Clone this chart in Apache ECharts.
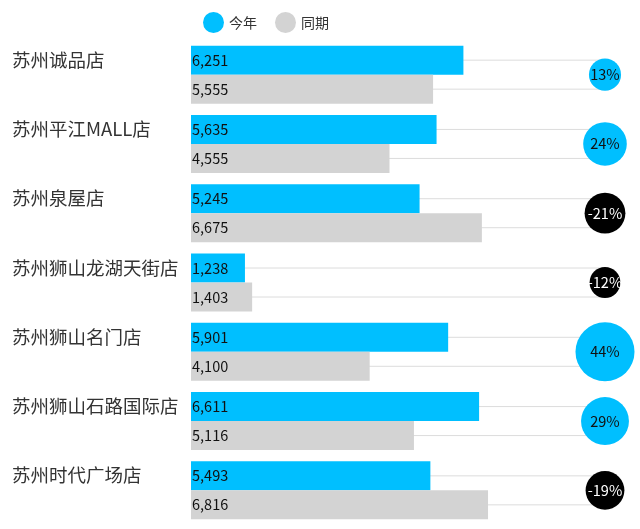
<!DOCTYPE html>
<html>
<head>
<meta charset="utf-8">
<script src="https://cdn.jsdelivr.net/npm/echarts@6/dist/echarts.min.js"></script>
<style>
  html, body { margin: 0; padding: 0; background: #fff; }
  #chart { width: 640px; height: 529px; }
</style>
</head>
<body>
<div id="chart"></div>
<script>
var stores = ['苏州诚品店', '苏州平江MALL店', '苏州泉屋店', '苏州狮山龙湖天街店', '苏州狮山名门店', '苏州狮山石路国际店', '苏州时代广场店'];
var thisYear = [6251, 5635, 5245, 1238, 5901, 6611, 5493];
var lastYear = [5555, 4555, 6675, 1403, 4100, 5116, 6816];
var growth = [13, 24, -21, -12, 44, 29, -19];
var axisMax = 9500;

var fontCn = '"Noto Sans CJK SC", "Microsoft YaHei", sans-serif';
var barW = 29;

var myChart = echarts.init(document.getElementById('chart'));

// 背景细线，每根柱子中线各一条
var guideLines = function (params, api) {
    var c = api.coord([0, api.value(0)]);
    var sys = params.coordSys;
    var half = barW / 2;
    return {
        type: 'group',
        children: [-half, half].map(function (dy) {
            return {
                type: 'line',
                shape: { x1: sys.x, y1: c[1] + dy, x2: sys.x + sys.width, y2: c[1] + dy },
                style: { stroke: '#dcdcdc', lineWidth: 1 }
            };
        })
    };
};

var numLabel = {
    show: true,
    position: 'insideLeft',
    distance: 1,
    fontSize: 14.5,
    color: '#111',
    formatter: function (p) { return p.value.toLocaleString('en-US'); }
};

var option = {
    textStyle: { fontFamily: fontCn },
    legend: {
        data: ['今年', '同期'],
        left: 198,
        top: 7,
        icon: 'circle',
        itemWidth: 21,
        itemHeight: 21,
        itemGap: 18,
        textStyle: { fontSize: 14, color: '#333', fontFamily: fontCn }
    },
    grid: { left: 191, right: 35, top: 40, bottom: 4 },
    xAxis: {
        type: 'value',
        min: 0,
        max: axisMax,
        show: false
    },
    yAxis: {
        type: 'category',
        data: stores,
        inverse: true,
        axisLine: { show: false },
        axisTick: { show: false },
        splitLine: { show: false },
        axisLabel: {
            align: 'left',
            margin: 179,
            verticalAlign: 'bottom',
            lineHeight: 30,
            fontSize: 18.5,
            color: '#333',
            fontFamily: fontCn
        }
    },
    series: [
        {
            type: 'custom',
            renderItem: guideLines,
            data: stores.map(function (s, i) { return [i]; }),
            encode: { y: 0 },
            silent: true,
            z: 1
        },
        {
            name: '今年',
            type: 'bar',
            data: thisYear,
            barWidth: barW,
            barGap: '0%',
            itemStyle: { color: '#00BFFF' },
            label: numLabel,
            z: 2
        },
        {
            name: '同期',
            type: 'bar',
            data: lastYear,
            barWidth: barW,
            barGap: '0%',
            itemStyle: { color: '#D3D3D3' },
            label: numLabel,
            z: 2
        },
        {
            type: 'scatter',
            clip: false,
            z: 5,
            data: growth.map(function (g, i) {
                return {
                    value: [axisMax, i, g],
                    itemStyle: { color: g >= 0 ? '#00BFFF' : '#000', opacity: 1 },
                    label: { color: g >= 0 ? '#111' : '#fff' }
                };
            }),
            symbolSize: function (v) { return Math.sqrt(Math.abs(v[2])) * 8.9; },
            label: {
                show: true,
                position: 'inside',
                fontSize: 14.5,
                formatter: function (p) { return p.value[2] + '%'; }
            }
        }
    ]
};

myChart.setOption(option);
window.onresize = myChart.resize;
</script>
</body>
</html>
